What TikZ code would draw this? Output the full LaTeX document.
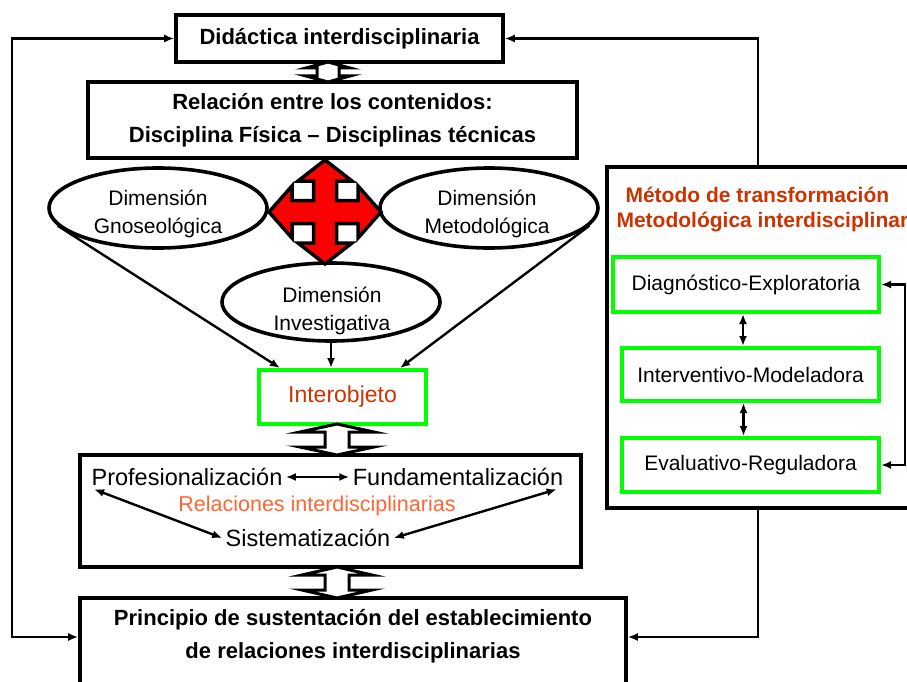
\documentclass[tikz,border=0pt]{standalone}
\usepackage{fontspec}
\setmainfont{Liberation Sans}
\usetikzlibrary{arrows.meta,shapes.geometric}
\definecolor{metred}{HTML}{CC3300}
\definecolor{relorange}{HTML}{FF6633}
\definecolor{boxgreen}{HTML}{00FF00}

\begin{document}
\begin{tikzpicture}[x=1pt,y=-1pt,
  mainbox/.style={draw, line width=3.6pt, inner sep=0pt},
  greenbox/.style={draw=boxgreen, line width=4pt, inner sep=0pt, font=\fontsize{21}{25}\selectfont},
  dimen/.style={draw, ellipse, line width=3.6pt, inner sep=0pt, minimum width=218pt, minimum height=80pt},
  dimtext/.style={align=center, font=\fontsize{21}{28}\selectfont},
  boldtext/.style={align=center, font=\fontsize{22}{33}\selectfont\bfseries},
  plaintext/.style={font=\fontsize{23.5}{28}\selectfont},
  link/.style={line width=2.4pt, -{Latex[length=10pt,width=8pt]}},
  dlink/.style={line width=2.4pt, {Latex[length=10pt,width=8pt]}-{Latex[length=10pt,width=8pt]}},
  blockarrow/.style={draw, line width=3pt, fill=white, line join=miter}]
\useasboundingbox (0,0) rectangle (907,682);

% left column
\node[mainbox, minimum width=327pt, minimum height=47pt, boldtext] (did) at (339.5,38.5) {Didáctica interdisciplinaria};
\node[mainbox, minimum width=489pt, minimum height=76pt, boldtext] (rel) at (332.5,120) {Relación entre los contenidos:\\Disciplina Física -- Disciplinas técnicas};

\node[dimen] (gno) at (158,208) {};
\node[dimtext] (gnot) at (158,214) {Dimensión\\Gnoseológica};
\node[dimen] (met) at (489,208) {};
\node[dimtext] (mett) at (487,214) {Dimensión\\Metodológica};
\node[dimen, minimum height=78pt] (inv) at (331,302) {};
\node[dimtext] (invt) at (332,311) {Dimensión\\Investigativa};

% four-way arrow
\draw[line width=3.5pt, fill=red, line join=miter, shift={(325,212)}]
  (0,-52) -- (27,-31) -- (11.5,-31) -- (11.5,-11.5) -- (33,-11.5) -- (33,-26) -- (56,0)
  -- (33,26) -- (33,11.5) -- (11.5,11.5) -- (11.5,31) -- (27,31) -- (0,52)
  -- (-27,31) -- (-11.5,31) -- (-11.5,11.5) -- (-33,11.5) -- (-33,26) -- (-56,0)
  -- (-33,-26) -- (-33,-11.5) -- (-11.5,-11.5) -- (-11.5,-31) -- (-27,-31) -- cycle;

\node[draw=boxgreen, line width=4pt, minimum width=167pt, minimum height=54pt, text=metred, font=\fontsize{23}{28}\selectfont] (intr) at (342.5,397) {Interobjeto};

\draw[link] (gno.190) -- ([xshift=23pt]intr.north west);
\draw[link] (met.350) -- ([xshift=-28pt]intr.north east);
\draw[link] (inv.south) -- (inv.south |- intr.north);

\node[mainbox, minimum width=501pt, minimum height=112pt] (relbox) at (330.5,511) {};
\node[plaintext] (prof) at (187,477) {Profesionalización};
\node[plaintext] (fund) at (458,477) {Fundamentalización};
\node[text=relorange, font=\fontsize{21.5}{26}\selectfont] (relint) at (317,506) {Relaciones interdisciplinarias};
\node[plaintext] (sist) at (308,538) {Sistematización};
\draw[dlink] (prof.east) -- (fund.west);
\draw[dlink] ([xshift=6pt]prof.south west) -- (sist.west);
\draw[dlink] ([xshift=-10pt]fund.south east) -- (sist.east);

\node[mainbox, minimum width=546pt, minimum height=122pt] (pri) at (353,659) {};
\node[boldtext] (prit) at (353,636.5) {Principio de sustentación del establecimiento\\de relaciones interdisciplinarias};

% double block arrows
\draw[blockarrow] (328,62) -- ++(22,6) -- ++(-11,0) -- ++(0,8) -- ++(11,0) -- ++(-22,6)
  -- ++(-22,-6) -- ++(11,0) -- ++(0,-8) -- ++(-11,0) -- cycle;
\draw[blockarrow] (337,424) -- ++(37,8) -- ++(-25,0) -- ++(0,15) -- ++(25,0) -- ++(-37,8)
  -- ++(-37,-8) -- ++(25,0) -- ++(0,-15) -- ++(-25,0) -- cycle;
\draw[blockarrow] (337,567) -- ++(35,8) -- ++(-23,0) -- ++(0,15) -- ++(23,0) -- ++(-35,8)
  -- ++(-35,-8) -- ++(23,0) -- ++(0,-15) -- ++(-23,0) -- cycle;

% right column
\node[mainbox, minimum width=323pt, minimum height=341pt] (metbox) at (768.5,337.5) {};
\node[anchor=west, text=metred, font=\fontsize{21}{25}\selectfont\bfseries] (mtita) at (622,195) {Método de transformación};
\node[anchor=west, text=metred, font=\fontsize{21}{25}\selectfont\bfseries] (mtitb) at (613,222) {Metodológica interdisciplinar};

\node[greenbox, minimum width=266pt, minimum height=55pt] (diag) at (746,284.5) {Diagnóstico-Exploratoria};
\node[greenbox, minimum width=257pt, minimum height=53pt] (intv) at (750.5,374.5) {Interventivo-Modeladora};
\node[greenbox, minimum width=257pt, minimum height=54pt] (eval) at (750.5,465) {Evaluativo-Reguladora};
\draw[dlink] ([xshift=-3pt]diag.south) -- ([xshift=-3pt]diag.south |- intv.north);
\draw[dlink] ([xshift=-7pt]intv.south) -- ([xshift=-7pt]intv.south |- eval.north);
\draw[dlink] (diag.east) -- ++(24,0) |- (eval.east);

% feedback lines
\coordinate (lftop) at (12,38.5);
\coordinate (lfbot) at (12,637);
\coordinate (rx) at (758,0);
\draw[dlink] (did.west) -- (lftop) -- (lfbot) -- (lfbot -| pri.west);
\draw[link] (metbox.north -| rx) |- (did.east);
\draw[link] (metbox.south -| rx) |- (lfbot -| pri.east);
\end{tikzpicture}
\end{document}
